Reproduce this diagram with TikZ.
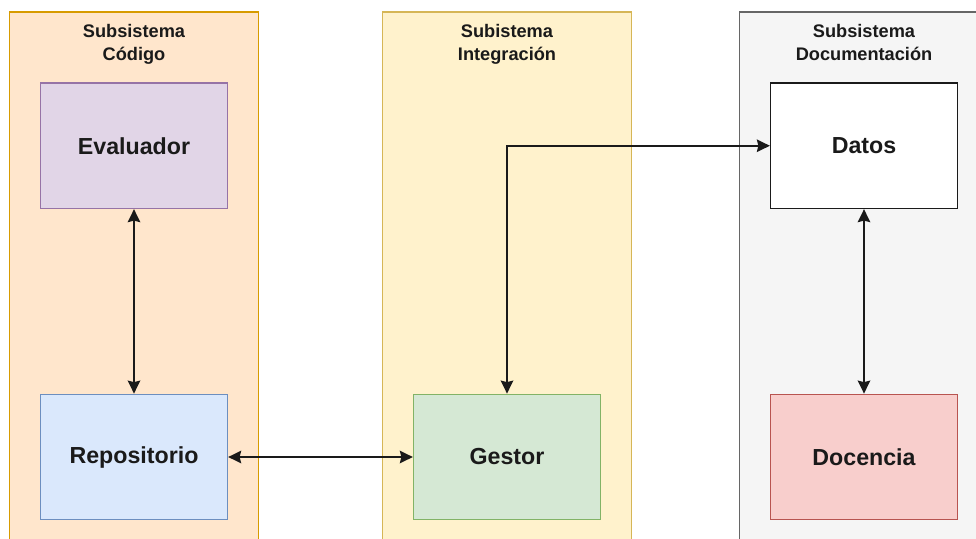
\documentclass[tikz,border=0pt]{standalone}
\usepackage{fontspec}
\setmainfont{Liberation Sans}
\usetikzlibrary{arrows.meta}

\definecolor{orangeFill}{HTML}{FFE6CC}
\definecolor{orangeLine}{HTML}{D79B00}
\definecolor{yellowFill}{HTML}{FFF2CC}
\definecolor{yellowLine}{HTML}{D6B656}
\definecolor{grayFill}{HTML}{F5F5F5}
\definecolor{grayLine}{HTML}{666666}
\definecolor{purpleFill}{HTML}{E1D5E7}
\definecolor{purpleLine}{HTML}{9673A6}
\definecolor{blueFill}{HTML}{DAE8FC}
\definecolor{blueLine}{HTML}{6C8EBF}
\definecolor{greenFill}{HTML}{D5E8D4}
\definecolor{greenLine}{HTML}{82B366}
\definecolor{redFill}{HTML}{F8CECC}
\definecolor{redLine}{HTML}{B85450}
\definecolor{ink}{HTML}{1A1A1A}

\tikzset{
  lane/.style={line width=1.3pt},
  lanetitle/.style={align=center, inner sep=0pt, anchor=base, text=ink,
    font=\fontsize{18.2}{22.3}\selectfont\bfseries},
  block/.style={rectangle, line width=1.3pt, minimum width=187pt,
    minimum height=125.5pt, inner sep=0pt, text=ink,
    font=\fontsize{23.2}{27}\selectfont\bfseries},
  link/.style={line width=1.7pt, draw=ink,
    {Stealth[length=13pt,width=12.5pt,inset=1.5pt]}-{Stealth[length=13pt,width=12.5pt,inset=1.5pt]}},
}

\begin{document}
\begin{tikzpicture}[x=1pt, y=-1pt]
  \useasboundingbox (0,0) rectangle (976,538);
  \clip (0,0) rectangle (976,538);

  % subsystem lanes
  \filldraw[lane, fill=orangeFill, draw=orangeLine] (9.5,12) rectangle (258.5,560);
  \filldraw[lane, fill=yellowFill, draw=yellowLine] (382.5,12) rectangle (631.5,560);
  \filldraw[lane, fill=grayFill, draw=grayLine] (739.5,12) rectangle (988.5,560);

  % lane titles (anchored on the baseline of the second line)
  \node[lanetitle] (tcod) at (134,60) {Subsistema\\Código};
  \node[lanetitle] (tint) at (507,60) {Subistema\\Integración};
  \node[lanetitle] (tdoc) at (864,60) {Subsistema\\Documentación};

  % components
  \node[block, fill=purpleFill, draw=purpleLine] (eval) at (134,145.75) {Evaluador};
  \node[block, fill=blueFill, draw=blueLine] (repo) at (134,457) {Repositorio};
  \node[block, fill=greenFill, draw=greenLine] (gestor) at (507,457) {Gestor};
  \node[block, fill=white, draw=ink] (datos) at (864,145.75) {Datos};
  \node[block, fill=redFill, draw=redLine] (docencia) at (864,457) {Docencia};

  % connections
  \draw[link] (eval) -- (repo);
  \draw[link] (repo) -- (gestor);
  \draw[link] (gestor.north) |- (datos.west);
  \draw[link] (datos) -- (docencia);
\end{tikzpicture}
\end{document}
